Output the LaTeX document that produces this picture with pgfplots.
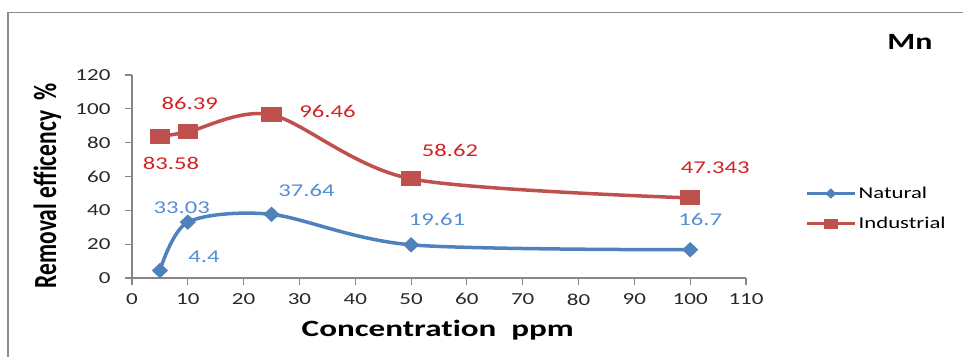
\documentclass[border=0pt]{standalone}
\usepackage{fontspec}
\usepackage{graphicx}
\setmainfont[FakeStretch=1.37, Ligatures=NoCommon]{Carlito}
\newfontfamily\ylabfont[Ligatures=NoCommon]{Carlito}
\newfontfamily\xlabfont[FakeStretch=1.42, Ligatures=NoCommon]{Carlito}
\usepackage{pgfplots}
\pgfplotsset{compat=1.18}
\usepackage{pgfplotstable}
\definecolor{natblue}{RGB}{79,129,189}
\definecolor{indred}{RGB}{192,80,77}
\definecolor{natlab}{RGB}{85,142,213}
\definecolor{indlab}{RGB}{210,35,35}
\definecolor{axisgray}{RGB}{134,134,134}
\definecolor{bordergray}{RGB}{140,140,140}
\definecolor{ticktext}{RGB}{40,40,40}

\pgfplotstableread{
x y
5 4.4
10 33.03
25 37.64
50 19.61
100 16.7
}\natural
\pgfplotstableread{
x y
5 83.58
10 86.39
25 96.46
50 58.62
100 47.343
}\industrial
\pgfplotstableread{
x y lab dx dy
5 4.4 4.4 44 14
10 33.03 33.03 -6 14
25 37.64 37.64 35 24
50 19.61 19.61 26 25
100 16.7 16.7 10 30
}\natlabels
\pgfplotstableread{
x y lab dx dy
5 83.58 83.58 11 -27
10 86.39 86.39 2 28
25 96.46 96.46 56 3
50 58.62 58.62 39 28
100 47.343 47.343 25 30
}\indlabels

\begin{document}
\begin{tikzpicture}
\path[use as bounding box] (0,0) rectangle (963pt,356pt);
\draw[color=bordergray, line width=1.5pt] (8pt,-2pt) -- (8pt,343.5pt) -- (965pt,343.5pt);
\begin{axis}[
  at={(132pt,78pt)}, anchor=south west,
  scale only axis, width=614pt, height=203pt,
  xmin=0, xmax=110, ymin=0, ymax=120,
  xtick={0,10,...,110}, ytick={0,20,...,120},
  axis x line*=bottom, axis y line*=left,
  axis line style={color=axisgray, line width=1.1pt},
  tick style={color=axisgray, line width=1.1pt},
  tick align=outside, major tick length=7pt,
  /pgf/number format/assume math mode=true,
  tick label style={font=\fontsize{16.8}{20}\selectfont, text=ticktext},
  yticklabel style={xshift=-11pt},
  xticklabel style={yshift=-5pt},
  xlabel={\xlabfont\bfseries\fontsize{23.3}{28}\selectfont Concentration~~ppm},
  xlabel style={at={(rel axis cs:0.498,-0.2906)}, anchor=base},
  ylabel={\scalebox{1}[1.37]{\ylabfont\bfseries\fontsize{23.5}{28}\selectfont Removal efficency~~\%}},
  ylabel style={at={(rel axis cs:-0.138,0.455)}, anchor=center},
  legend style={draw=none, fill=none, at={(rel axis cs:1.096,0.342)}, anchor=west,
    font=\fontsize{16.6}{20}\selectfont, row sep=13pt, inner sep=0pt},
  legend cell align=left,
  legend image code/.code={\draw[mark repeat=2,mark phase=2] plot coordinates {(0pt,0pt) (24pt,0pt) (48pt,0pt)};},
  legend image post style={mark size=4.5pt},
  clip=false,
]
\addplot[color=natblue, line width=3.5pt, smooth, mark=diamond*, mark size=7pt,
  mark options={xscale=1.4, solid, fill=natblue, line width=1pt}] table[x=x,y=y] {\natural};
\addlegendentry{Natural}
\addplot[color=indred, line width=3.5pt, smooth, mark=square*, mark size=7pt,
  mark options={xscale=1.37, solid, fill=indred, line width=1pt}] table[x=x,y=y] {\industrial};
\addlegendentry{Industrial}
\addplot[draw=none, mark=none, forget plot, point meta=explicit symbolic,
  visualization depends on={\thisrow{dx} \as \dx},
  visualization depends on={\thisrow{dy} \as \dy},
  nodes near coords={\pgfplotspointmeta},
  nodes near coords style={anchor=center, xshift=\dx pt, yshift=\dy pt, text=natlab, font=\fontsize{18}{20}\selectfont}]
  table[x=x,y=y,meta=lab] {\natlabels};
\addplot[draw=none, mark=none, forget plot, point meta=explicit symbolic,
  visualization depends on={\thisrow{dx} \as \dx},
  visualization depends on={\thisrow{dy} \as \dy},
  nodes near coords={\pgfplotspointmeta},
  nodes near coords style={anchor=center, xshift=\dx pt, yshift=\dy pt, text=indlab, font=\fontsize{18}{20}\selectfont}]
  table[x=x,y=y,meta=lab] {\indlabels};
\end{axis}
\node[font=\bfseries\fontsize{23.3}{28}\selectfont, anchor=base] at (910pt,306pt) {Mn};
\end{tikzpicture}
\end{document}
